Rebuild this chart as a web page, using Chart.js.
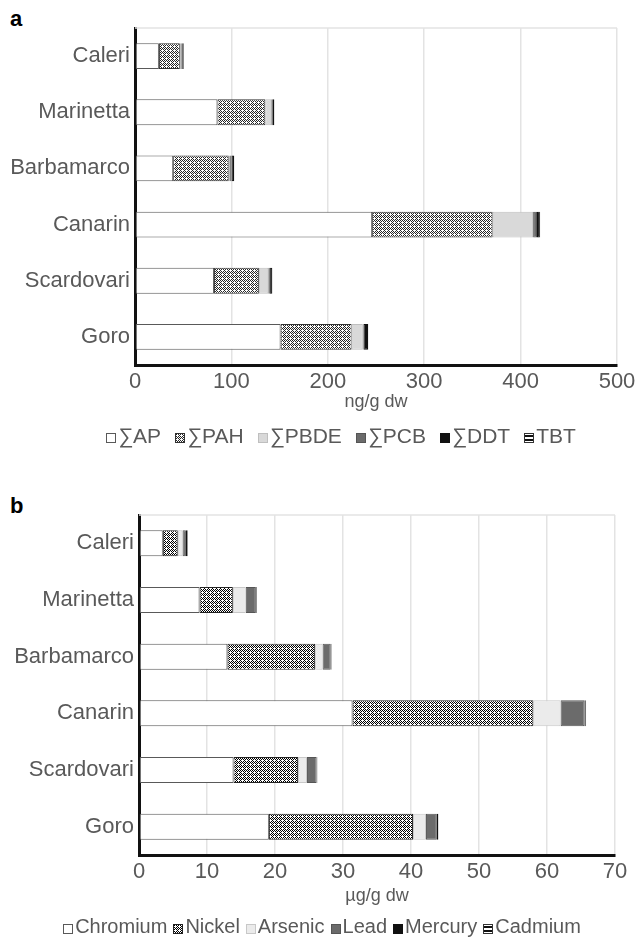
<!DOCTYPE html>
<html>
<head>
<meta charset="utf-8">
<script src="https://cdn.jsdelivr.net/npm/chart.js@4"></script>
<style>
  html, body { margin: 0; padding: 0; background: #fff; }
  body { width: 644px; height: 938px; position: relative; overflow: hidden; font-family: 'Liberation Sans', Arial, sans-serif; }
  .panel { position: absolute; left: 0; width: 644px; }
  .tag { position: absolute; font-weight: bold; font-size: 22px; color: #000; }
  .legend { position: absolute; left: 0; width: 644px; box-sizing: border-box; text-align: center;
            line-height: 24px; color: #595959; white-space: nowrap; }
  .legend .item { display: inline-block; }
  .legend canvas { vertical-align: middle; margin-right: 2px; position: relative; top: 1px; }
  #legendA { font-size: 21px; }
  #legendA .item { margin: 0 7px; }
  #legendB { font-size: 20px; }
  #legendB .item { margin: 0 3px; }
</style>
</head>
<body>
<div class="tag" style="left:10px; top:6px;">a</div>
<div class="panel" style="top:0; height:460px;"><canvas id="chartA"></canvas></div>
<div class="legend" id="legendA" style="top:424px; padding-left:38px;"></div>
<div class="tag" style="left:10px; top:493px;">b</div>
<div class="panel" style="top:470px; height:468px;"><canvas id="chartB"></canvas></div>
<div class="legend" id="legendB" style="top:914px;"></div>
<script>
'use strict';

// sampling sites (top to bottom)
const SITES = ['Caleri', 'Marinetta', 'Barbamarco', 'Canarin', 'Scardovari', 'Goro'];

// panel a, organic contaminants (ng/g dw)
const SUM_AP   = [24.8, 85.5, 39.6, 246, 82, 151];
const SUM_PAH  = [21.7, 49.7, 57.6, 125, 46.5, 73.7];
const SUM_PBDE = [1.5, 6.2, 1.5, 42, 9.8, 11.3];
const SUM_PCB  = [1, 1, 1.5, 4, 1, 1];
const SUM_DDT  = [1.5, 2, 2.5, 3, 3, 4.7];
const TBT      = [0.3, 0.3, 0.3, 0.3, 0.3, 0.3];
const TICKS_A  = [0, 100, 200, 300, 400, 500];

// panel b, trace metals (µg/g dw)
const CHROMIUM = [3.5, 8.9, 13.0, 31.4, 13.9, 19.1];
const NICKEL   = [2.2, 4.9, 12.9, 26.6, 9.5, 21.2];
const ARSENIC  = [0.7, 1.9, 1.1, 4.0, 1.3, 1.9];
const LEAD     = [0.5, 1.4, 1.2, 3.5, 1.4, 1.6];
const MERCURY  = [0.25, 0.2, 0.1, 0.2, 0.1, 0.2];
const CADMIUM  = [0.05, 0.05, 0.05, 0.05, 0.05, 0.05];
const TICKS_B  = [0, 10, 20, 30, 40, 50, 60, 70];

const FONT = "'Liberation Sans', Arial, sans-serif";
const GREY_TEXT = '#595959';

/**
 * Small repeating fills, like the hatched Excel styles.
 */
function makePattern(kind, ink) {
  const c = document.createElement('canvas');
  c.width = 4;
  c.height = 4;
  const ctx = c.getContext('2d');
  ctx.fillStyle = '#fff';
  ctx.fillRect(0, 0, 4, 4);
  ctx.fillStyle = ink;
  if (kind === 'cross') {
    // dark lattice with a white plus in each tile
    for (let x = 0; x < 4; x++) {
      for (let y = 0; y < 4; y++) {
        if ((x + y) % 2 === 0 && !(x === 2 && y === 2)) ctx.fillRect(x, y, 1, 1);
      }
    }
  } else if (kind === 'stripe') {
    ctx.fillRect(0, 2, 4, 2);
  }
  return ctx.createPattern(c, 'repeat');
}

function series(label, data, fill, border) {
  return {
    label: label,
    data: data,
    backgroundColor: fill,
    borderColor: border || '#595959',
    borderWidth: 1,
    borderSkipped: false,
    categoryPercentage: 1,
    barPercentage: 0.46
  };
}

// light line along the top of the plot area
const topEdge = {
  id: 'topEdge',
  beforeDatasetsDraw(chart) {
    const a = chart.chartArea;
    const ctx = chart.ctx;
    ctx.save();
    ctx.strokeStyle = '#e3e3e3';
    ctx.lineWidth = 1.5;
    ctx.beginPath();
    ctx.moveTo(a.left, a.top);
    ctx.lineTo(a.right, a.top);
    ctx.stroke();
    ctx.restore();
  }
};

function makeChart(canvasId, datasets, opts) {
  return new Chart(document.getElementById(canvasId), {
    type: 'bar',
    data: { labels: SITES, datasets: datasets },
    plugins: [topEdge],
    options: {
      indexAxis: 'y',
      responsive: true,
      maintainAspectRatio: false,
      animation: false,
      layout: { padding: { top: opts.top, right: opts.right, bottom: opts.bottom, left: 0 } },
      scales: {
        x: {
          stacked: true,
          min: 0,
          max: opts.max,
          afterBuildTicks: (scale) => {
            scale.ticks = opts.ticks.map((v) => ({ value: v }));
          },
          afterFit: (scale) => { scale.height = opts.xHeight; },
          grid: { color: '#e3e3e3', lineWidth: 1.5, drawTicks: false },
          border: { display: true, color: '#111', width: 3 },
          ticks: { color: GREY_TEXT, font: { family: FONT, size: 22 }, padding: 4 },
          title: {
            display: true,
            text: opts.unit,
            color: GREY_TEXT,
            font: { family: FONT, size: 18 },
            padding: { top: 0, bottom: 2 }
          }
        },
        y: {
          stacked: true,
          afterFit: (scale) => { scale.width = opts.yWidth; },
          grid: { display: false, drawTicks: false },
          border: { display: true, color: '#111', width: 3 },
          ticks: { color: GREY_TEXT, font: { family: FONT, size: 22 }, padding: 5 }
        }
      },
      plugins: {
        legend: { display: false },
        tooltip: { enabled: false }
      }
    }
  });
}

// legend row built from the chart's own datasets
function buildLegend(chart, holder) {
  for (const ds of chart.data.datasets) {
    const item = document.createElement('span');
    item.className = 'item';
    const box = document.createElement('canvas');
    box.width = 10;
    box.height = 10;
    const ctx = box.getContext('2d');
    ctx.fillStyle = ds.backgroundColor;
    ctx.fillRect(0, 0, 10, 10);
    ctx.strokeStyle = ds.borderColor;
    ctx.lineWidth = 1;
    ctx.strokeRect(0.5, 0.5, 9, 9);
    item.appendChild(box);
    item.appendChild(document.createTextNode(ds.label));
    holder.appendChild(item);
  }
}

const stripe = makePattern('stripe', '#111');

const chartA = makeChart('chartA', [
  series('∑AP', SUM_AP, '#ffffff'),
  series('∑PAH', SUM_PAH, makePattern('cross', '#262626'), '#333'),
  series('∑PBDE', SUM_PBDE, '#d9d9d9', '#bfbfbf'),
  series('∑PCB', SUM_PCB, '#6b6b6b', '#555'),
  series('∑DDT', SUM_DDT, '#111111', '#111'),
  series('TBT', TBT, stripe, '#333')
], { max: 500, ticks: TICKS_A, unit: 'ng/g dw', top: 28, right: 27, bottom: 45, xHeight: 50, yWidth: 135 });

const chartB = makeChart('chartB', [
  series('Chromium', CHROMIUM, '#ffffff'),
  series('Nickel', NICKEL, makePattern('cross', '#000'), '#222'),
  series('Arsenic', ARSENIC, '#ebebeb', '#c8c8c8'),
  series('Lead', LEAD, '#6b6b6b', '#555'),
  series('Mercury', MERCURY, '#111111', '#111'),
  series('Cadmium', CADMIUM, stripe, '#333')
], { max: 70, ticks: TICKS_B, unit: 'µg/g dw', top: 45, right: 29, bottom: 29, xHeight: 54, yWidth: 139 });

buildLegend(chartA, document.getElementById('legendA'));
buildLegend(chartB, document.getElementById('legendB'));
</script>
</body>
</html>
